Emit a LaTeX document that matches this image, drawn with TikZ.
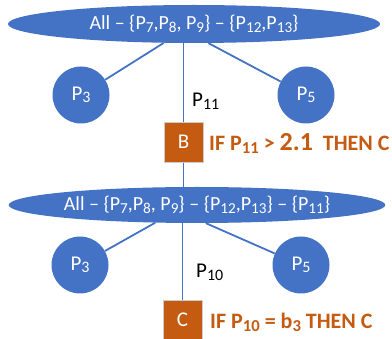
\documentclass[tikz,border=0pt]{standalone}
\usepackage{fontspec}
\usepackage{graphicx}
\setmainfont{Carlito}
\usetikzlibrary{shapes.geometric,backgrounds}
\definecolor{nodeblue}{HTML}{4472C4}
\definecolor{ruleorange}{HTML}{C55A11}
\newcommand\ix[1]{\raisebox{-0.12em}{\scalebox{0.76}{#1}}}
\begin{document}
\begin{tikzpicture}[x=1pt,y=-1pt,
  setnode/.style={ellipse,fill=nodeblue,text=white,inner sep=0pt,
    minimum width=372,minimum height=38,font=\fontsize{20}{24}\selectfont},
  attr/.style={circle,fill=nodeblue,text=white,inner sep=0pt,
    minimum size=57,font=\fontsize{21}{24}\selectfont},
  leaf/.style={rectangle,fill=ruleorange,draw=black!20,line width=0.6pt,text=white,
    inner sep=0pt,minimum width=39,minimum height=40,font=\fontsize{21}{24}\selectfont},
  edge/.style={draw=nodeblue,line width=1.8pt},
  lbl/.style={anchor=base west,inner sep=0pt,font=\fontsize{21}{24}\selectfont},
  rule/.style={anchor=base west,inner sep=0pt,text=ruleorange,font=\bfseries\fontsize{22}{26}\selectfont}]
\useasboundingbox (0,0) rectangle (392,339);

% first split
\node[setnode] (s1) at (194,24) {All -- \{P\ix{7},P\ix{8}, P\ix{9}\} -- \{P\ix{12},P\ix{13}\}};
\node[attr] (a1) at (81,95) {P\ix{3}};
\node[attr] (b1) at (306,95) {P\ix{5}};
\node[leaf] (B) at (183.5,142) {B};
\node[lbl] (l1) at (192,107) {P\ix{11}};
\node[rule] (r1) at (209,151) {IF P\ix{11} > {\fontsize{26}{28}\selectfont 2.1}\hspace{0.45em}THEN C};

% second split
\node[setnode,minimum height=36] (s2) at (197,205) {All -- \{P\ix{7},P\ix{8}, P\ix{9}\} -- \{P\ix{12},P\ix{13}\} -- \{P\ix{11}\}};
\node[attr] (a2) at (80,265) {P\ix{3}};
\node[attr] (b2) at (301,265) {P\ix{5}};
\node[leaf] (C) at (182.5,320) {C};
\node[lbl] (l2) at (196,278) {P\ix{10}};
\node[rule] (r2) at (210,329) {IF P\ix{10} = b\ix{3} THEN C};

\begin{scope}[on background layer]
  \draw[edge] (s1.-148.5) -- (a1);
  \draw[edge] (s1.-53.6) -- (b1);
  \draw[edge] (B.north) -- (B.north |- s1.center);
  \draw[edge] (B.south) -- (B.south |- s2.center);
  \draw[edge] (s2.-157) -- (a2);
  \draw[edge] (s2.-64.8) -- (b2);
  \draw[edge] (C.north) -- (C.north |- s2.center);
\end{scope}
\end{tikzpicture}
\end{document}
